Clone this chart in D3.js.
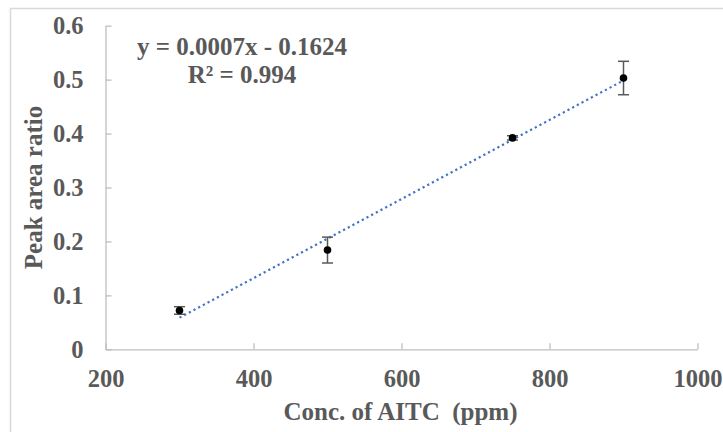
<!DOCTYPE html>
<html>
<head>
<meta charset="utf-8">
<script src="https://cdn.jsdelivr.net/npm/d3@7"></script>
<style>
  body { margin: 0; background: #fff; }
  text { font-family: "Liberation Serif", "Times New Roman", serif; font-weight: bold; fill: #595959; }
</style>
</head>
<body>
<script>
// data
var conc = [300, 500, 750, 900];
var ratio = [0.072, 0.184, 0.392, 0.503];
var errs = [0.007, 0.024, 0.004, 0.031];
var xTicks = [200, 400, 600, 800, 1000];
var yTicks = [0, 0.1, 0.2, 0.3, 0.4, 0.5, 0.6];
var eqLines = ["y = 0.0007x - 0.1624", "R\u00b2 = 0.994"];

var W = 723, H = 432;
var pLeft = 105.5, pRight = 697.5, pTop = 25.7, pBottom = 349.3;

var svg = d3.select("body").append("svg")
  .attr("width", W)
  .attr("height", H);

// chart border (only top and left edges are visible in the picture)
svg.append("rect")
  .attr("x", 10.5).attr("y", 8.5)
  .attr("width", W + 20).attr("height", H + 20)
  .attr("fill", "none").attr("stroke", "#d9d9d9").attr("stroke-width", 1.5);

var x = d3.scaleLinear().domain([200, 1000]).range([pLeft, pRight]);
var y = d3.scaleLinear().domain([0, 0.6]).range([pBottom, pTop]);

// x axis, ticks pointing up into the plot
var xAxis = svg.append("g")
  .attr("transform", "translate(0," + pBottom + ")")
  .call(d3.axisBottom(x).tickValues(xTicks).tickSize(-6).tickSizeOuter(0).tickPadding(0).tickFormat(d3.format("d")));
xAxis.select(".domain").attr("stroke", "#bfbfbf").attr("stroke-width", 1.3);
xAxis.selectAll(".tick line").attr("stroke", "#bfbfbf").attr("stroke-width", 1.3);
xAxis.selectAll(".tick text")
  .attr("y", 38).attr("dy", null)
  .attr("font-size", 24.5).attr("fill", "#595959");

// y axis, ticks pointing right
var yAxis = svg.append("g")
  .attr("transform", "translate(" + pLeft + ",0)")
  .call(d3.axisLeft(y).tickValues(yTicks).tickSize(-6).tickSizeOuter(0)
    .tickFormat(function(d){ return d === 0 ? "0" : d3.format(".1f")(d); }));
yAxis.select(".domain").attr("stroke", "#bfbfbf").attr("stroke-width", 1.3);
yAxis.selectAll(".tick line").attr("stroke", "#bfbfbf").attr("stroke-width", 1.3);
yAxis.selectAll(".tick text")
  .attr("x", -22).attr("dy", "0.32em")
  .attr("font-size", 24.5).attr("fill", "#595959");
svg.selectAll(".tick text").style("font-family", "Liberation Serif, Times New Roman, serif").style("font-weight", "bold");

// least squares trend line, drawn over the data range
var mx = d3.mean(conc), my = d3.mean(ratio);
var sxy = d3.sum(conc, function(c, i){ return (c - mx) * (ratio[i] - my); });
var sxx = d3.sum(conc, function(c){ return (c - mx) * (c - mx); });
var slope = sxy / sxx, icpt = my - slope * mx;
var xr = d3.extent(conc);
svg.append("line")
  .attr("x1", x(xr[0])).attr("y1", y(slope * xr[0] + icpt))
  .attr("x2", x(xr[1])).attr("y2", y(slope * xr[1] + icpt))
  .attr("stroke", "#4472c4").attr("stroke-width", 2.2)
  .attr("stroke-dasharray", "2.2 3.1");

// error bars
var eb = svg.append("g").attr("stroke", "#595959").attr("stroke-width", 1.5);
conc.forEach(function(c, i){
  var cx = x(c), hi = y(ratio[i] + errs[i]), lo = y(ratio[i] - errs[i]);
  eb.append("line").attr("x1", cx).attr("x2", cx).attr("y1", hi).attr("y2", lo);
  eb.append("line").attr("x1", cx - 5.5).attr("x2", cx + 5.5).attr("y1", hi).attr("y2", hi);
  eb.append("line").attr("x1", cx - 5.5).attr("x2", cx + 5.5).attr("y1", lo).attr("y2", lo);
});

// points
svg.selectAll("circle.pt")
  .data(conc)
  .enter()
  .append("circle")
    .attr("class", "pt")
    .attr("cx", function(d){ return x(d); })
    .attr("cy", function(d, i){ return y(ratio[i]); })
    .attr("r", 3.8)
    .attr("fill", "#000");

// equation label
svg.selectAll("text.eq")
  .data(eqLines)
  .enter()
  .append("text")
    .attr("class", "eq")
    .attr("x", 242)
    .attr("y", function(d, i){ return 55 + i * 28; })
    .attr("text-anchor", "middle")
    .attr("font-size", 25)
    .text(function(d){ return d; });

// axis titles
svg.append("text")
  .attr("x", (pLeft + pRight) / 2 - 1)
  .attr("y", 420)
  .attr("text-anchor", "middle")
  .attr("font-size", 25)
  .style("white-space", "pre")
  .text("Conc. of AITC  (ppm)");

svg.append("text")
  .attr("transform", "translate(42," + ((pTop + pBottom) / 2) + ") rotate(-90)")
  .attr("text-anchor", "middle")
  .attr("font-size", 25)
  .text("Peak area ratio");
</script>
</body>
</html>
